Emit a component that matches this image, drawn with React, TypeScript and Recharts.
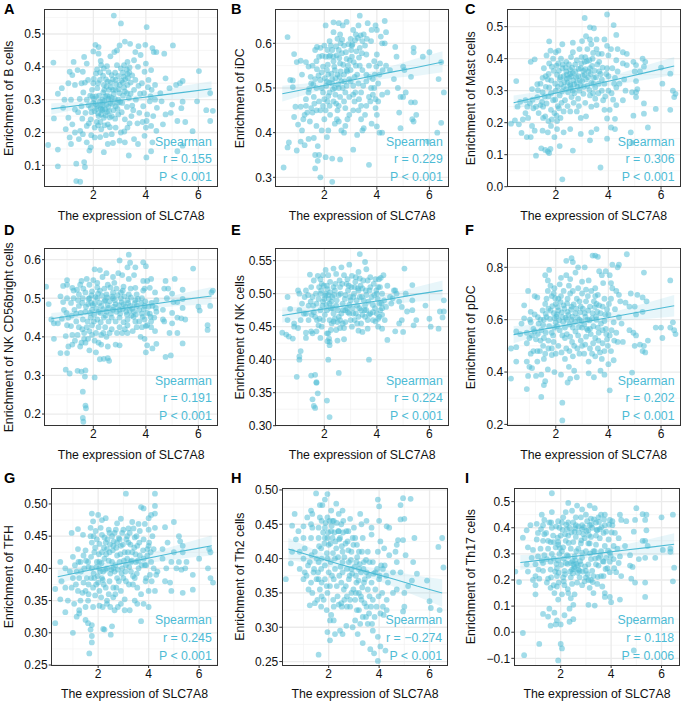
import {
  ComposedChart,
  Scatter,
  Line,
  Area,
  XAxis,
  YAxis,
  CartesianGrid,
} from 'recharts';

const xTicks = [2, 4, 6];
const xMinor = [1, 3, 5];
const fitX = [0.4, 1.5, 2.5, 3.5, 4.5, 5.5, 6.5];

const bCells = [[2.78,.556],[3.05,.532],[4.03,.521],[3.2,.477],[3.4,.47],[3.72,.463],[3.98,.467],[4.25,.457],[4.3,.445],[4.4,.445],[4.7,.44],[5.03,.465],[2.0,.447],[2.08,.467],[2.2,.46],[2.2,.44],[3.0,.465],[2.9,.45],[2.8,.445],[2.65,.432],[3.6,.445],[3.8,.436],[.48,.413],[1.25,.415],[1.65,.43],[1.75,.41],[6.02,.387],[6.45,.32],[6.3,.268],[6.55,.266],[6.45,.235],[5.95,.295],[5.78,.204],[5.4,.357],[5.3,.35],[5.15,.345],[5.4,.294],[5.35,.274],[5.2,.235],[5.5,.232],[5.4,.16],[5.2,.143],[4.02,.124],[4.2,.143],[3.35,.13],[2.4,.14],[1.5,.05],[1.35,.052],[1.35,.105],[.65,.097],[1.65,.11],[1.68,.095],[.28,.162],[.5,.243],[.65,.148],[.65,.318],[.8,.335],[.9,.3],[.85,.275],[1.05,.35],[1.1,.385],[1.2,.375],[1.4,.39],[1.6,.385],[1.55,.35],[1.3,.345],[1.15,.3],[1.3,.27],[1.05,.245],[.95,.21],[1.2,.225],[1.3,.2],[1.5,.205],[1.45,.18],[1.1,.185],[1.15,.165],[1.75,.17],[1.85,.145],[1.9,.155],[1.6,.195],[1.75,.22],[1.9,.24],[1.7,.26],[1.55,.28],[1.75,.3],[1.95,.33],[1.8,.36],[2.0,.35],[2.1,.38],[2.3,.405],[2.4,.395],[2.25,.36],[2.4,.345],[2.1,.31],[2.0,.29],[2.15,.28],[2.05,.265],[2.2,.25],[2.35,.27],[2.25,.295],[2.45,.31],[2.6,.33],[2.55,.355],[2.7,.375],[2.9,.405],[3.05,.395],[3.3,.415],[3.55,.42],[3.7,.4],[4.0,.41],[3.95,.385],[4.2,.39],[3.15,.37],[3.3,.378],[3.0,.345],[2.85,.33],[2.7,.305],[2.5,.285],[2.6,.265],[2.4,.245],[2.55,.225],[2.3,.21],[2.05,.215],[2.05,.185],[2.7,.195],[2.85,.215],[3.05,.2],[3.3,.215],[3.0,.175],[3.2,.17],[3.55,.18],[3.7,.165],[2.75,.168],[2.55,.165],[3.95,.19],[4.0,.215],[4.2,.22],[4.4,.205],[4.25,.17],[4.65,.225],[4.75,.255],[4.95,.26],[5.0,.285],[4.6,.295],[4.35,.3],[4.15,.295],[3.9,.28],[4.05,.255],[3.75,.26],[3.45,.25],[3.2,.24],[2.95,.255],[2.85,.28],[3.1,.29],[3.35,.305],[3.55,.33],[3.3,.345],[3.6,.36],[3.85,.35],[4.1,.36],[4.35,.345],[4.75,.365],[4.55,.32],[4.9,.335],[2.75,.33],[2.35,.3],[2.15,.335],[2.65,.29],[2.95,.3],[2.3,.255],[1.9,.275],[2.5,.34],[2.85,.36],[3.2,.325],[3.0,.32],[2.7,.25],[2.45,.27]];
const bCore = [[1.82,.283],[1.93,.262],[2.03,.302],[2.12,.272],[2.18,.258],[2.22,.312],[2.28,.283],[2.33,.267],[2.38,.322],[2.42,.296],[2.47,.252],[2.52,.312],[2.57,.278],[2.63,.246],[2.67,.338],[2.72,.287],[2.77,.268],[2.82,.302],[2.87,.347],[2.92,.272],[2.97,.332],[3.02,.293],[3.07,.358],[3.12,.382],[3.17,.337],[3.22,.362],[3.27,.392],[3.32,.366],[3.37,.383],[3.42,.352],[3.48,.374],[2.02,.363],[2.14,.392],[2.26,.383],[2.37,.373],[2.48,.362],[2.58,.384],[2.66,.352],[2.74,.362],[2.83,.382],[2.94,.372],[1.68,.352],[1.88,.312],[1.62,.322],[1.48,.302],[1.42,.262],[1.58,.242],[1.83,.228],[2.13,.232],[2.27,.232],[2.43,.222],[2.63,.216],[2.83,.242],[3.08,.262],[3.28,.278],[3.48,.282],[3.62,.3],[3.78,.318],[3.93,.32],[4.08,.338],[4.22,.33],[3.72,.342],[3.52,.268],[3.68,.228],[3.88,.232],[4.03,.235],[3.38,.228],[3.18,.203],[2.48,.192],[2.26,.186],[1.92,.192],[2.18,.222],[2.58,.302],[2.36,.283],[2.08,.286],[1.97,.31],[2.28,.272],[2.52,.262],[2.92,.29],[3.13,.312],[3.28,.32],[2.62,.31],[2.78,.318],[2.42,.33],[2.18,.35],[3.42,.318],[4.18,.31],[4.42,.275],[4.28,.25],[3.12,.352],[3.38,.398],[3.17,.405],[2.52,.402],[2.28,.418]];
const iDC = [[.6,.614],[.45,.322],[.65,.378],[.6,.367],[.95,.36],[.7,.518],[.8,.517],[.85,.576],[.95,.558],[1.1,.561],[1.3,.558],[1.4,.548],[1.15,.53],[.8,.502],[.9,.458],[.85,.435],[1.1,.458],[1.3,.46],[1.5,.455],[1.2,.43],[1.0,.418],[1.15,.405],[1.45,.425],[1.1,.38],[1.25,.372],[1.4,.386],[1.6,.388],[1.75,.37],[1.65,.35],[1.8,.35],[1.65,.32],[1.75,.337],[1.85,.3],[2.05,.345],[2.3,.342],[2.6,.34],[2.3,.29],[3.1,.362],[3.7,.328],[3.8,.42],[4.0,.414],[4.1,.4],[4.2,.4],[4.0,.44],[4.9,.41],[5.35,.43],[5.5,.44],[5.4,.425],[4.85,.445],[5.95,.38],[6.3,.4],[6.45,.422],[6.55,.49],[6.35,.52],[6.45,.558],[6.0,.58],[5.75,.57],[5.4,.58],[5.4,.59],[4.7,.592],[4.75,.57],[4.3,.6],[4.2,.6],[5.0,.548],[5.05,.54],[5.3,.525],[5.1,.49],[5.0,.48],[4.8,.5],[4.9,.48],[5.3,.468],[5.45,.468],[4.65,.52],[4.5,.54],[4.35,.55],[4.4,.49],[4.2,.485],[4.05,.47],[3.95,.455],[4.3,.65],[4.35,.625],[4.15,.615],[4.0,.63],[3.95,.64],[3.8,.63],[3.65,.645],[3.35,.662],[3.3,.64],[3.1,.63],[2.85,.648],[2.7,.64],[2.55,.645],[2.35,.647],[2.05,.64],[2.35,.625],[2.6,.62],[2.5,.61],[2.2,.605],[2.0,.595],[1.85,.59],[1.65,.585],[1.8,.57],[2.05,.57],[2.3,.585],[2.55,.585],[2.75,.595],[3.0,.61],[3.2,.62],[3.45,.605],[3.6,.575],[3.35,.59],[3.05,.57],[2.85,.565],[2.6,.555],[2.35,.56],[2.1,.54],[1.9,.535],[1.65,.52],[1.5,.51],[1.7,.5],[1.9,.5],[2.1,.515],[2.3,.52],[2.5,.53],[2.75,.53],[3.0,.54],[3.2,.55],[3.45,.54],[3.7,.55],[3.9,.56],[4.0,.575],[3.85,.52],[4.1,.53],[3.6,.515],[3.4,.49],[3.3,.51],[3.1,.505],[2.85,.505],[2.65,.515],[2.4,.5],[2.2,.49],[2.0,.475],[1.8,.47],[1.6,.48],[1.4,.49],[1.3,.475],[1.7,.45],[1.95,.46],[2.2,.46],[2.45,.465],[2.6,.48],[2.75,.47],[2.95,.48],[3.15,.47],[3.4,.46],[3.6,.46],[3.7,.48],[3.9,.5],[2.0,.43],[1.9,.405],[1.7,.415],[2.1,.39],[2.15,.405],[2.4,.42],[2.55,.425],[2.8,.415],[2.75,.4],[2.95,.44],[3.1,.45],[3.4,.43],[3.5,.41],[3.25,.395],[2.5,.45],[2.9,.55],[2.4,.54],[3.25,.53],[2.55,.5],[2.15,.53],[2.3,.51]];
const iCore = [[1.85,.518],[1.95,.548],[2.02,.522],[2.07,.505],[2.13,.552],[2.18,.512],[2.22,.573],[2.27,.532],[2.33,.497],[2.38,.548],[2.43,.522],[2.47,.573],[2.52,.508],[2.57,.567],[2.62,.537],[2.67,.578],[2.72,.552],[2.77,.515],[2.82,.58],[2.87,.537],[2.92,.598],[2.97,.562],[3.02,.585],[3.07,.598],[3.12,.558],[3.17,.607],[3.22,.582],[3.28,.612],[3.32,.568],[3.38,.618],[3.43,.578],[3.5,.62],[3.55,.595],[2.45,.593],[2.68,.608],[2.25,.595],[1.78,.528],[1.58,.508],[1.48,.525],[1.42,.498],[1.72,.542],[1.92,.572],[1.72,.592],[2.12,.585],[2.58,.525],[2.8,.49],[3.0,.515],[3.18,.49],[3.48,.505],[3.72,.525],[3.78,.5],[3.92,.53],[4.05,.51],[4.12,.555],[4.22,.54],[3.98,.548],[3.75,.47],[3.55,.44],[3.3,.45],[3.85,.485],[3.95,.475],[2.35,.47],[2.12,.47],[2.55,.46],[2.8,.455],[1.85,.45],[1.55,.445],[1.35,.445],[1.25,.44],[1.62,.465],[1.95,.49],[2.05,.45],[2.22,.44],[2.65,.405],[2.88,.43],[3.45,.405],[2.48,.43],[3.78,.605],[3.62,.61],[3.05,.595],[2.62,.6],[2.18,.57],[1.55,.55],[1.7,.56],[3.6,.53],[3.35,.55],[3.15,.525],[2.95,.52],[2.7,.5],[2.42,.485],[2.15,.482],[3.1,.485],[3.32,.475],[2.85,.54],[2.35,.57]];
const mastCells = [[3.95,.538],[3.1,.527],[4.2,.505],[3.3,.498],[3.45,.495],[4.3,.474],[3.15,.47],[3.3,.46],[3.55,.46],[3.85,.46],[1.75,.454],[2.25,.445],[2.65,.45],[3.0,.455],[3.35,.445],[3.95,.44],[4.1,.43],[4.35,.43],[4.55,.42],[4.7,.415],[2.1,.425],[1.8,.425],[2.0,.42],[2.65,.42],[2.9,.43],[3.2,.43],[3.55,.43],[3.75,.415],[1.2,.398],[1.05,.39],[1.65,.41],[1.9,.4],[2.2,.4],[2.4,.39],[2.8,.395],[3.1,.39],[3.4,.4],[3.65,.39],[4.0,.41],[4.3,.395],[4.55,.385],[4.95,.39],[5.05,.38],[5.3,.4],[5.4,.39],[5.35,.375],[4.7,.38],[1.55,.37],[1.85,.375],[2.25,.37],[2.55,.365],[2.95,.37],[3.3,.37],[3.65,.36],[3.95,.37],[4.15,.37],[4.35,.36],[.5,.33],[1.3,.32],[1.5,.34],[1.7,.335],[2.05,.35],[2.3,.345],[2.6,.345],[2.85,.345],[3.1,.35],[3.45,.34],[3.75,.335],[4.0,.345],[4.25,.34],[4.6,.335],[5.0,.36],[5.2,.36],[5.05,.33],[6.0,.372],[6.35,.353],[1.1,.305],[.85,.27],[.65,.265],[.55,.25],[1.3,.28],[1.5,.295],[1.75,.31],[2.0,.3],[2.2,.32],[2.45,.325],[2.7,.32],[2.95,.315],[3.2,.315],[3.5,.31],[3.75,.3],[4.0,.3],[4.3,.31],[4.65,.3],[4.9,.295],[5.05,.295],[5.1,.305],[5.05,.28],[5.35,.26],[6.05,.322],[6.45,.3],[6.5,.28],[6.55,.29],[6.35,.24],[5.8,.243],[5.35,.228],[4.95,.222],[5.5,.185],[4.85,.17],[4.9,.137],[3.95,.213],[4.25,.212],[4.25,.18],[4.1,.185],[3.95,.15],[3.7,.06],[2.25,.023],[2.65,.113],[2.15,.127],[1.25,.097],[1.45,.12],[1.6,.115],[1.7,.11],[1.8,.118],[1.75,.105],[1.05,.155],[.9,.155],[.7,.168],[.3,.197],[.45,.207],[.6,.195],[.75,.21],[.85,.23],[.95,.215],[1.1,.19],[1.2,.175],[1.5,.175],[1.7,.17],[1.95,.155],[2.05,.18],[2.3,.17],[2.55,.18],[2.95,.165],[3.35,.17],[3.55,.18],[3.3,.145],[1.15,.245],[1.35,.23],[1.6,.22],[1.85,.21],[2.05,.205],[2.3,.235],[2.55,.235],[2.8,.235],[2.95,.215],[3.15,.22],[3.35,.25],[3.55,.255],[3.85,.24],[4.05,.24],[4.3,.255],[4.55,.27],[1.65,.26],[1.9,.27],[2.15,.285],[2.35,.27],[2.6,.28],[2.85,.275],[3.05,.29],[3.3,.285],[3.5,.275],[3.8,.27],[2.4,.305],[2.65,.3],[2.9,.3],[3.15,.335],[2.75,.36],[2.4,.36],[2.5,.34],[3.0,.33],[2.15,.335],[3.35,.325],[2.55,.32]];
const mCore = [[1.62,.312],[1.73,.352],[1.83,.332],[1.92,.362],[1.98,.322],[2.03,.378],[2.08,.312],[2.12,.362],[2.18,.342],[2.24,.298],[2.27,.382],[2.33,.327],[2.38,.372],[2.42,.337],[2.47,.295],[2.5,.382],[2.55,.352],[2.58,.308],[2.62,.372],[2.67,.332],[2.71,.292],[2.74,.382],[2.78,.342],[2.82,.312],[2.87,.368],[2.92,.332],[2.97,.385],[3.02,.347],[3.07,.312],[3.12,.367],[3.18,.392],[3.23,.342],[3.28,.302],[3.33,.352],[3.38,.377],[3.43,.322],[3.48,.362],[3.53,.342],[3.58,.382],[3.63,.322],[3.7,.352],[3.78,.372],[3.85,.322],[3.92,.352],[1.48,.265],[1.58,.282],[1.72,.282],[1.82,.292],[1.98,.272],[2.08,.252],[2.22,.262],[2.45,.252],[2.68,.262],[2.88,.252],[3.12,.262],[3.42,.292],[3.62,.292],[3.88,.282],[4.12,.292],[4.22,.322],[4.42,.322],[4.18,.272],[1.25,.25],[1.42,.255],[1.52,.25],[1.82,.24],[1.95,.23],[2.12,.245],[2.03,.222],[1.12,.272],[1.02,.26],[.92,.25],[1.32,.302],[1.62,.345],[1.42,.322],[1.82,.19],[1.72,.205],[2.18,.215],[1.52,.215],[3.12,.405],[3.42,.418],[3.62,.415],[3.28,.395],[2.58,.405],[2.98,.405],[2.1,.385],[1.75,.385],[2.55,.315],[2.8,.325],[2.3,.312],[3.25,.36],[3.05,.362],[2.65,.355],[2.42,.35]];
const nkBright = [[3.35,.613],[3.0,.598],[3.4,.592],[3.3,.58],[3.6,.58],[3.9,.593],[4.0,.583],[5.8,.577],[2.05,.575],[2.25,.573],[2.5,.565],[2.95,.565],[3.1,.56],[3.35,.55],[3.55,.56],[2.35,.555],[2.75,.555],[4.2,.55],[3.9,.545],[4.05,.545],[4.75,.545],[5.1,.55],[1.0,.547],[1.75,.55],[2.0,.547],[1.55,.545],[1.0,.535],[.85,.532],[.2,.53],[1.2,.527],[1.5,.535],[1.85,.535],[2.15,.54],[2.55,.535],[2.8,.54],[3.15,.53],[3.6,.527],[3.95,.525],[4.15,.527],[4.7,.525],[4.85,.525],[5.4,.522],[6.55,.52],[6.5,.515],[5.0,.512],[1.25,.52],[1.45,.51],[1.7,.515],[1.95,.518],[2.25,.52],[2.5,.51],[2.75,.515],[3.05,.515],[3.35,.51],[3.65,.51],[3.9,.52],[4.35,.515],[.75,.505],[1.0,.5],[1.25,.5],[1.6,.5],[1.85,.5],[2.15,.5],[2.45,.495],[2.75,.5],[3.05,.5],[3.3,.495],[3.6,.495],[3.85,.5],[4.4,.495],[4.8,.5],[5.05,.49],[5.4,.498],[.3,.485],[.85,.49],[1.15,.488],[1.45,.48],[1.8,.485],[2.05,.487],[2.3,.48],[2.55,.482],[2.85,.485],[3.15,.485],[3.4,.48],[3.65,.48],[3.95,.48],[4.25,.48],[4.65,.47],[5.2,.49],[5.4,.475],[6.45,.48],[6.0,.478],[6.05,.468],[1.35,.46],[1.7,.465],[1.95,.47],[2.2,.465],[2.5,.465],[2.75,.47],[3.0,.47],[3.25,.465],[3.55,.465],[3.85,.46],[4.15,.46],[4.4,.465],[5.0,.462],[.4,.445],[.5,.435],[.65,.435],[.8,.447],[1.05,.45],[1.35,.44],[1.6,.445],[1.9,.45],[2.15,.445],[2.4,.45],[2.7,.45],[3.0,.45],[3.3,.445],[3.6,.44],[3.95,.445],[4.2,.44],[4.7,.44],[4.65,.445],[5.2,.45],[5.35,.448],[5.5,.445],[1.0,.43],[1.15,.428],[1.45,.425],[1.65,.41],[1.95,.43],[2.2,.425],[2.45,.425],[2.7,.42],[3.0,.425],[3.3,.43],[3.65,.425],[4.0,.428],[4.35,.415],[5.0,.435],[6.35,.43],[6.35,.418],[.5,.395],[.95,.402],[1.2,.405],[1.4,.405],[1.65,.395],[1.95,.405],[2.3,.405],[2.5,.4],[2.9,.41],[3.1,.41],[3.8,.4],[3.95,.395],[4.9,.41],[5.2,.41],[1.05,.375],[1.2,.38],[1.3,.39],[1.5,.375],[1.7,.385],[1.85,.365],[2.1,.36],[2.3,.38],[2.55,.375],[2.85,.38],[3.0,.378],[4.0,.36],[4.05,.378],[4.25,.37],[4.4,.382],[5.4,.383],[.75,.358],[1.0,.358],[2.4,.343],[2.25,.342],[2.55,.345],[2.6,.338],[4.75,.348],[4.95,.352],[.95,.315],[1.1,.305],[1.4,.312],[1.55,.31],[1.7,.313],[1.68,.297],[2.05,.295],[1.6,.258],[1.7,.222],[1.72,.215],[1.6,.19],[1.62,.18]];
const dCore = [[1.72,.478],[1.82,.498],[1.88,.462],[1.93,.508],[1.98,.482],[2.03,.457],[2.08,.503],[2.12,.473],[2.18,.512],[2.23,.488],[2.28,.462],[2.33,.507],[2.38,.472],[2.42,.492],[2.47,.455],[2.52,.502],[2.58,.475],[2.62,.492],[2.67,.46],[2.72,.505],[2.78,.478],[2.82,.495],[2.88,.465],[2.92,.508],[2.98,.482],[3.02,.46],[3.08,.49],[3.12,.472],[3.18,.505],[3.22,.478],[3.28,.458],[3.33,.488],[3.38,.468],[3.43,.502],[3.48,.473],[3.53,.452],[3.58,.487],[3.62,.458],[3.7,.498],[3.75,.47],[3.82,.487],[3.88,.452],[3.92,.472],[3.98,.492],[4.05,.462],[4.1,.478],[4.18,.452],[4.22,.488],[4.32,.45],[4.38,.475],[1.52,.462],[1.58,.488],[1.42,.495],[1.28,.47],[1.18,.455],[.98,.462],[.88,.47],[1.62,.525],[1.38,.522],[1.92,.488],[2.15,.528],[2.42,.525],[2.65,.528],[2.88,.525],[3.12,.52],[3.42,.525],[1.78,.44],[2.02,.44],[2.28,.438],[2.58,.44],[2.85,.44],[3.15,.438],[3.45,.455],[3.75,.44],[4.05,.43],[1.85,.415],[2.1,.41],[1.75,.425],[1.58,.42],[2.38,.41],[2.62,.41],[3.2,.42],[3.5,.415],[3.85,.425],[4.2,.425],[3.3,.41],[1.8,.395],[1.55,.385],[2.05,.39],[2.2,.385]];
const nkCells = [[3.35,.56],[3.55,.548],[5.05,.538],[3.3,.533],[2.05,.536],[2.35,.538],[2.65,.54],[2.95,.544],[3.6,.537],[1.45,.529],[1.6,.52],[1.75,.527],[1.95,.528],[2.15,.528],[2.45,.53],[2.75,.528],[3.05,.527],[3.35,.523],[3.65,.52],[3.95,.522],[4.15,.524],[4.25,.528],[4.4,.512],[5.35,.513],[1.0,.505],[1.3,.505],[1.5,.51],[1.8,.51],[2.1,.512],[2.35,.51],[2.6,.51],[2.85,.515],[3.15,.51],[3.45,.508],[3.75,.51],[4.05,.51],[4.7,.505],[1.05,.5],[.6,.495],[1.25,.495],[1.55,.495],[1.85,.5],[2.05,.5],[2.3,.495],[2.55,.498],[2.8,.498],[3.1,.495],[3.35,.495],[3.6,.498],[3.9,.498],[4.2,.5],[4.6,.493],[5.1,.5],[6.55,.49],[1.15,.485],[1.4,.482],[1.7,.485],[1.95,.488],[2.2,.485],[2.45,.482],[2.7,.485],[2.95,.483],[3.25,.482],[3.55,.482],[3.85,.483],[4.1,.485],[4.55,.485],[4.85,.488],[5.35,.49],[5.85,.482],[.7,.477],[1.05,.475],[1.3,.47],[1.6,.472],[1.85,.475],[2.1,.475],[2.35,.47],[2.65,.47],[2.9,.472],[3.2,.47],[3.45,.468],[3.75,.47],[4.0,.47],[4.2,.468],[4.95,.48],[5.15,.473],[5.35,.475],[6.4,.473],[6.55,.473],[.6,.46],[.85,.455],[1.1,.46],[1.4,.46],[1.65,.465],[1.95,.46],[2.2,.46],[2.5,.457],[2.8,.457],[3.15,.46],[3.4,.455],[3.65,.46],[3.95,.458],[4.3,.46],[4.95,.46],[4.85,.455],[5.5,.46],[5.4,.452],[6.0,.462],[6.5,.464],[.4,.441],[.55,.438],[.65,.435],[.8,.432],[.85,.45],[1.0,.448],[1.3,.441],[1.5,.443],[1.7,.443],[1.9,.45],[2.15,.44],[2.45,.445],[2.75,.448],[3.05,.45],[3.3,.444],[3.45,.442],[3.65,.447],[4.05,.45],[4.2,.447],[4.7,.443],[5.0,.442],[6.05,.45],[6.35,.447],[1.3,.433],[1.55,.44],[1.85,.433],[2.2,.427],[2.1,.44],[2.5,.429],[2.75,.431],[2.2,.422],[4.4,.43],[1.1,.413],[1.05,.405],[1.05,.4],[2.15,.4],[3.7,.4],[.95,.374],[2.55,.38],[1.5,.376],[1.65,.377],[1.7,.366],[1.7,.365],[1.75,.349],[1.55,.34],[2.1,.338],[1.6,.33],[1.65,.327],[2.2,.313],[2.55,.465],[3.0,.49],[2.4,.505],[2.15,.498],[3.5,.49],[2.0,.492],[2.25,.478],[2.9,.505],[3.3,.505],[1.9,.515]];
const nCore = [[1.78,.492],[1.88,.505],[1.93,.482],[1.98,.512],[2.03,.497],[2.08,.483],[2.12,.507],[2.17,.492],[2.22,.502],[2.27,.488],[2.32,.478],[2.37,.498],[2.42,.515],[2.47,.49],[2.52,.475],[2.62,.5],[2.68,.515],[2.72,.475],[2.78,.492],[2.87,.478],[2.93,.512],[2.98,.495],[3.03,.51],[3.08,.478],[3.13,.5],[3.18,.518],[3.23,.49],[3.28,.508],[3.33,.478],[3.38,.512],[3.43,.495],[3.48,.52],[3.53,.475],[3.58,.505],[3.68,.488],[3.72,.505],[3.8,.495],[3.88,.515],[3.93,.478],[3.98,.505],[4.03,.492],[4.08,.522],[4.13,.475],[4.18,.485],[4.28,.49],[4.35,.48],[4.05,.462],[4.1,.465],[4.2,.478],[1.58,.482],[1.48,.488],[1.68,.5],[1.38,.498],[1.22,.47],[1.52,.468],[1.72,.46],[1.82,.462],[2.02,.468],[2.28,.455],[2.4,.462],[2.6,.46],[2.7,.455],[3.0,.46],[3.25,.455],[3.55,.465],[3.85,.46],[2.12,.428],[2.18,.432],[2.25,.445],[2.35,.458],[2.6,.448],[1.78,.452],[3.3,.465],[3.4,.475],[3.6,.475],[3.7,.468],[3.85,.472],[2.8,.475],[3.1,.47],[2.95,.47],[4.5,.495],[4.65,.505],[4.75,.5],[2.58,.52],[2.22,.518],[1.85,.522],[2.88,.522],[3.2,.525],[3.75,.525],[4.12,.51],[4.0,.5]];
const pDC = [[3.4,.845],[3.5,.845],[3.6,.84],[4.7,.85],[2.6,.835],[2.65,.82],[2.85,.8],[2.4,.825],[3.1,.8],[4.15,.81],[4.4,.81],[4.35,.8],[1.75,.79],[2.75,.78],[3.65,.785],[3.9,.785],[5.35,.78],[1.6,.77],[2.2,.76],[2.4,.77],[2.55,.755],[3.0,.745],[3.25,.75],[3.75,.77],[4.05,.77],[6.35,.75],[1.7,.75],[1.8,.73],[2.15,.735],[2.5,.73],[2.85,.72],[3.15,.715],[3.5,.72],[3.8,.74],[4.1,.74],[.95,.71],[1.7,.71],[1.95,.72],[2.3,.71],[2.65,.71],[3.0,.7],[3.35,.71],[3.6,.695],[4.15,.72],[4.3,.71],[4.4,.695],[1.2,.69],[1.3,.685],[1.85,.69],[2.1,.68],[2.45,.68],[2.8,.68],[3.15,.67],[3.45,.67],[3.85,.68],[4.1,.68],[4.45,.67],[4.85,.7],[5.1,.695],[5.3,.685],[5.45,.67],[.8,.655],[1.6,.66],[2.0,.66],[2.3,.655],[2.6,.65],[2.95,.65],[3.3,.65],[3.65,.655],[3.95,.64],[4.25,.64],[4.65,.665],[4.8,.65],[5.0,.65],[1.05,.63],[1.2,.62],[1.5,.635],[1.8,.635],[2.1,.635],[2.45,.63],[2.75,.625],[3.1,.625],[3.4,.625],[3.7,.625],[4.0,.62],[4.4,.61],[5.3,.63],[5.05,.62],[.8,.605],[1.05,.59],[.7,.585],[1.35,.585],[1.65,.61],[1.95,.605],[2.25,.61],[2.6,.6],[2.9,.6],[3.2,.6],[3.55,.6],[3.85,.595],[4.2,.59],[4.5,.585],[5.8,.57],[6.0,.57],[6.35,.57],[6.45,.59],[6.5,.56],[.5,.555],[.65,.545],[.9,.55],[1.15,.565],[1.45,.56],[1.75,.575],[2.05,.575],[2.35,.57],[2.65,.57],[3.0,.57],[3.3,.565],[3.6,.57],[3.9,.565],[4.3,.55],[4.8,.56],[4.95,.55],[5.05,.54],[6.05,.53],[6.55,.545],[.3,.49],[.5,.495],[.9,.51],[1.0,.53],[1.25,.525],[1.55,.53],[1.9,.54],[2.25,.54],[2.55,.535],[2.85,.54],[3.15,.535],[3.5,.53],[3.95,.525],[4.35,.515],[4.55,.515],[5.0,.5],[5.2,.505],[5.35,.5],[5.5,.52],[5.3,.48],[5.4,.475],[1.15,.48],[1.3,.48],[1.05,.47],[1.6,.47],[1.85,.49],[2.1,.5],[2.4,.49],[2.7,.5],[3.0,.5],[3.3,.49],[3.6,.49],[3.85,.48],[4.1,.48],[.5,.44],[.9,.44],[1.0,.42],[1.1,.415],[1.3,.44],[1.55,.45],[1.85,.465],[2.0,.47],[2.35,.45],[2.65,.46],[2.9,.47],[3.25,.44],[3.5,.46],[3.75,.45],[4.0,.43],[4.2,.445],[.3,.375],[.95,.385],[1.25,.385],[1.45,.39],[1.7,.41],[1.95,.4],[2.2,.39],[2.5,.42],[2.7,.405],[2.55,.375],[2.8,.38],[3.25,.395],[3.45,.38],[3.7,.405],[3.85,.39],[4.9,.398],[.9,.335],[1.6,.365],[1.55,.35],[1.45,.305],[2.25,.283],[2.25,.215],[4.05,.33],[2.45,.36]];
const pCore = [[1.62,.622],[1.72,.642],[1.78,.603],[1.87,.652],[1.93,.625],[1.98,.682],[2.03,.612],[2.08,.648],[2.13,.598],[2.18,.668],[2.23,.628],[2.28,.592],[2.33,.642],[2.38,.608],[2.43,.662],[2.48,.618],[2.53,.582],[2.58,.638],[2.63,.612],[2.68,.658],[2.73,.592],[2.78,.642],[2.83,.608],[2.88,.572],[2.93,.628],[2.98,.595],[3.03,.642],[3.08,.582],[3.13,.612],[3.18,.565],[3.23,.635],[3.28,.598],[3.33,.545],[3.38,.605],[3.43,.575],[3.48,.648],[3.53,.612],[3.58,.63],[3.63,.55],[3.72,.585],[3.78,.56],[3.88,.62],[3.92,.545],[1.42,.6],[1.52,.58],[1.62,.55],[1.72,.52],[1.85,.55],[1.95,.57],[2.15,.56],[2.35,.53],[2.42,.545],[2.62,.515],[2.75,.555],[2.95,.52],[3.12,.505],[3.22,.56],[3.42,.51],[3.62,.52],[3.78,.51],[3.98,.5],[4.05,.54],[4.12,.56],[4.22,.52],[1.4,.48],[1.52,.5],[1.72,.49],[1.92,.515],[2.22,.475],[2.52,.48],[2.82,.49],[3.08,.47],[3.38,.47],[3.68,.475],[1.2,.555],[1.32,.545],[1.1,.54],[1.42,.52],[1.02,.6],[1.32,.61],[1.55,.6],[1.65,.68],[1.92,.7],[2.2,.69],[2.55,.7],[2.9,.67],[3.22,.69],[3.5,.69],[3.78,.65],[4.02,.66],[3.55,.66],[2.0,.59],[2.42,.6],[2.05,.62]];
const tfh = [[3.1,.516],[4.25,.516],[4.25,.497],[3.7,.495],[3.8,.493],[4.25,.485],[4.1,.483],[1.75,.485],[2.0,.483],[2.15,.475],[2.3,.478],[1.8,.473],[4.0,.478],[2.75,.47],[2.9,.477],[3.2,.462],[3.35,.472],[3.6,.469],[3.85,.469],[4.25,.463],[4.65,.464],[5.0,.472],[.95,.455],[1.2,.461],[1.7,.463],[1.9,.458],[2.1,.463],[2.45,.455],[2.7,.46],[2.95,.455],[3.4,.462],[3.65,.458],[4.0,.46],[1.4,.452],[1.7,.45],[1.95,.445],[2.25,.448],[2.55,.45],[2.85,.445],[3.15,.45],[3.45,.448],[3.8,.445],[4.15,.45],[5.2,.45],[5.25,.442],[1.75,.44],[2.05,.438],[2.3,.44],[2.6,.435],[2.9,.435],[3.2,.44],[3.55,.435],[3.95,.43],[4.75,.44],[5.35,.435],[5.0,.425],[1.2,.43],[1.5,.428],[1.85,.425],[2.15,.425],[2.45,.425],[2.75,.42],[3.05,.425],[3.35,.425],[3.65,.42],[4.0,.435],[4.2,.43],[4.55,.43],[5.35,.425],[6.4,.43],[6.45,.425],[1.0,.418],[1.3,.41],[1.6,.41],[1.95,.41],[2.25,.415],[2.55,.41],[2.85,.41],[3.15,.415],[3.5,.41],[3.8,.415],[4.1,.41],[4.55,.415],[4.9,.41],[5.5,.41],[5.2,.41],[6.0,.415],[.5,.41],[.7,.4],[1.15,.395],[1.45,.4],[1.75,.4],[2.05,.4],[2.35,.4],[2.65,.395],[2.95,.4],[3.3,.395],[3.6,.4],[3.85,.405],[4.2,.4],[4.35,.395],[4.7,.4],[5.1,.4],[5.45,.4],[5.3,.398],[6.35,.4],[.55,.38],[1.0,.385],[1.25,.385],[1.55,.385],[1.85,.385],[2.15,.385],[2.45,.38],[2.75,.385],[3.1,.38],[3.45,.385],[3.9,.385],[4.3,.39],[4.65,.38],[4.85,.378],[5.75,.39],[6.45,.385],[6.55,.378],[.3,.368],[.7,.37],[.95,.37],[1.2,.365],[1.5,.365],[1.8,.37],[2.05,.365],[2.3,.37],[2.6,.37],[2.9,.365],[3.55,.37],[3.7,.36],[4.0,.365],[4.25,.365],[4.9,.365],[5.35,.362],[5.75,.367],[.5,.352],[.8,.35],[1.05,.345],[1.3,.35],[1.6,.35],[2.35,.35],[2.6,.355],[3.05,.352],[3.45,.35],[3.8,.345],[4.0,.34],[1.25,.335],[.7,.332],[1.5,.34],[1.8,.34],[2.05,.342],[2.35,.345],[2.65,.335],[2.9,.345],[3.05,.335],[3.25,.335],[3.55,.345],[1.15,.325],[1.25,.33],[1.5,.32],[.3,.315],[1.6,.315],[1.75,.312],[3.7,.318],[1.0,.3],[1.7,.305],[1.75,.295],[1.75,.285],[1.65,.268],[2.2,.306],[2.25,.305],[2.55,.31],[2.5,.297]];
const gCore = [[1.62,.402],[1.72,.418],[1.82,.392],[1.88,.432],[1.93,.402],[1.98,.388],[2.03,.422],[2.08,.395],[2.13,.408],[2.18,.382],[2.23,.432],[2.28,.398],[2.32,.422],[2.37,.445],[2.42,.412],[2.47,.437],[2.52,.398],[2.58,.428],[2.62,.442],[2.68,.405],[2.72,.432],[2.78,.398],[2.82,.447],[2.88,.422],[2.93,.392],[2.98,.437],[3.02,.412],[3.08,.395],[3.12,.445],[3.18,.425],[3.23,.402],[3.28,.437],[3.33,.412],[3.38,.388],[3.43,.432],[3.48,.422],[3.53,.392],[3.58,.412],[3.63,.44],[3.72,.405],[3.78,.428],[3.9,.405],[3.95,.42],[4.02,.44],[4.08,.425],[1.42,.42],[1.52,.412],[1.32,.395],[1.42,.378],[1.62,.375],[1.72,.385],[1.92,.375],[2.0,.378],[2.22,.375],[2.48,.392],[2.72,.37],[2.82,.38],[3.0,.385],[3.22,.375],[3.38,.375],[3.88,.38],[4.05,.39],[4.12,.38],[1.08,.405],[1.22,.41],[.88,.395],[1.12,.375],[1.38,.362],[1.62,.36],[1.88,.358],[2.12,.355],[2.42,.36],[2.68,.36],[2.18,.34],[2.48,.34],[2.78,.34],[1.82,.45],[2.15,.452],[2.42,.46],[2.65,.455],[3.0,.46],[3.25,.455],[3.52,.45],[2.35,.43],[2.75,.44],[2.05,.41],[2.2,.395],[3.1,.405],[3.3,.41],[2.6,.4]];
const th2 = [[1.5,.495],[1.95,.494],[1.85,.486],[3.95,.486],[4.95,.488],[5.25,.487],[4.0,.476],[1.75,.478],[2.3,.48],[4.85,.478],[1.3,.47],[1.35,.465],[1.65,.478],[2.1,.47],[2.4,.465],[2.55,.47],[.65,.465],[1.15,.46],[1.3,.45],[1.65,.46],[1.95,.46],[2.2,.455],[2.5,.45],[2.85,.458],[3.25,.465],[3.5,.455],[4.0,.455],[4.85,.457],[5.0,.458],[.55,.448],[1.0,.447],[1.35,.445],[1.6,.445],[1.85,.445],[2.1,.44],[2.4,.44],[2.7,.44],[3.0,.445],[3.3,.45],[3.7,.445],[4.3,.447],[4.4,.445],[.8,.44],[.7,.428],[1.0,.43],[1.3,.43],[1.6,.43],[1.85,.43],[2.15,.43],[2.45,.43],[2.75,.425],[3.05,.43],[3.35,.43],[3.7,.435],[4.05,.425],[4.75,.427],[4.95,.427],[5.4,.43],[6.5,.43],[.55,.41],[.85,.41],[1.05,.415],[1.45,.41],[1.7,.415],[2.0,.42],[2.3,.415],[2.55,.41],[2.9,.41],[3.2,.41],[3.55,.41],[3.95,.41],[4.2,.415],[4.7,.42],[4.65,.41],[6.35,.417],[1.0,.4],[1.25,.395],[.5,.393],[1.6,.395],[1.95,.4],[2.25,.4],[2.55,.395],[2.8,.395],[3.1,.395],[3.4,.395],[3.75,.395],[4.4,.405],[5.05,.405],[5.35,.395],[4.7,.395],[.85,.385],[1.05,.38],[1.4,.38],[1.7,.385],[2.0,.38],[2.25,.385],[2.55,.38],[2.9,.385],[3.2,.385],[3.5,.38],[3.85,.38],[4.15,.385],[4.55,.38],[4.85,.38],[5.5,.378],[6.55,.387],[.3,.37],[1.0,.37],[1.3,.365],[1.6,.37],[1.85,.37],[2.2,.37],[2.5,.365],[2.8,.37],[3.1,.365],[3.4,.365],[3.7,.365],[4.0,.37],[4.35,.365],[5.3,.368],[5.9,.368],[1.2,.355],[1.35,.35],[1.65,.355],[1.95,.35],[2.6,.355],[2.9,.35],[3.2,.35],[3.55,.355],[3.85,.355],[4.55,.35],[4.7,.355],[5.0,.35],[5.15,.36],[1.55,.34],[1.8,.34],[2.35,.345],[2.5,.335],[2.85,.34],[3.05,.34],[3.3,.34],[3.5,.33],[3.9,.33],[4.15,.33],[5.0,.33],[6.0,.338],[1.25,.332],[1.45,.335],[1.7,.33],[2.2,.33],[2.4,.333],[3.2,.325],[3.35,.315],[3.6,.32],[4.05,.32],[4.3,.325],[4.95,.323],[6.05,.328],[6.4,.325],[2.05,.31],[2.1,.318],[2.2,.31],[3.05,.31],[3.25,.305],[3.55,.305],[1.95,.293],[2.25,.29],[2.05,.281],[2.45,.295],[2.55,.29],[2.7,.302],[2.95,.3],[3.15,.29],[3.75,.295],[3.95,.286],[3.35,.277],[3.65,.268],[3.8,.262],[4.25,.266],[4.05,.272],[1.6,.26],[3.95,.251]];
const hCore = [[1.62,.418],[1.72,.4],[1.78,.438],[1.83,.422],[1.88,.452],[1.93,.408],[1.98,.438],[2.03,.455],[2.07,.422],[2.12,.448],[2.17,.408],[2.22,.438],[2.27,.425],[2.32,.452],[2.37,.402],[2.42,.428],[2.47,.388],[2.52,.418],[2.57,.438],[2.62,.402],[2.67,.422],[2.72,.385],[2.78,.412],[2.83,.375],[2.88,.398],[2.93,.378],[2.98,.42],[3.03,.388],[3.08,.375],[3.13,.402],[3.18,.368],[3.23,.392],[3.28,.38],[3.33,.358],[3.38,.385],[3.43,.37],[3.48,.398],[3.58,.375],[3.62,.395],[3.78,.378],[3.92,.385],[4.02,.375],[4.08,.39],[4.22,.39],[4.28,.375],[1.42,.385],[1.52,.4],[1.32,.405],[1.58,.38],[1.72,.365],[1.85,.39],[2.08,.395],[2.13,.375],[2.32,.36],[2.42,.375],[2.68,.36],[2.72,.345],[2.98,.355],[3.08,.35],[3.28,.345],[3.62,.345],[3.75,.34],[3.98,.345],[4.12,.35],[4.3,.34],[1.72,.345],[2.05,.36],[2.18,.34],[2.62,.34],[2.85,.33],[3.42,.335],[3.68,.33],[3.82,.315],[4.18,.318],[3.48,.315],[3.72,.305],[2.72,.33],[1.92,.325],[2.52,.33],[3.12,.325],[1.52,.37],[1.12,.375],[1.18,.39],[1.92,.36],[2.15,.455],[2.38,.44],[1.72,.455],[2.58,.455],[2.95,.43],[3.12,.42],[3.32,.41],[2.78,.44],[1.95,.43]];
const th17 = [[1.65,.532],[2.3,.495],[2.65,.485],[2.85,.47],[3.15,.485],[3.35,.475],[5.0,.475],[2.2,.46],[2.45,.465],[3.0,.45],[3.6,.45],[3.75,.45],[4.35,.45],[5.25,.452],[5.4,.45],[6.45,.45],[1.25,.45],[1.65,.46],[2.1,.44],[2.6,.44],[2.8,.44],[3.2,.435],[3.5,.44],[3.95,.43],[4.05,.425],[4.4,.43],[4.6,.425],[4.95,.43],[5.35,.43],[6.0,.44],[1.35,.43],[1.55,.42],[1.9,.425],[2.3,.42],[2.6,.41],[2.85,.41],[3.15,.41],[3.4,.42],[3.75,.41],[4.05,.41],[.8,.41],[.65,.39],[1.05,.415],[1.3,.41],[1.65,.4],[1.95,.4],[2.25,.395],[2.55,.385],[2.85,.395],[3.1,.39],[3.45,.39],[3.8,.385],[4.15,.38],[4.9,.385],[5.4,.39],[.5,.362],[1.1,.38],[1.35,.375],[1.7,.37],[2.0,.37],[2.3,.37],[2.6,.365],[2.95,.36],[3.2,.365],[3.55,.36],[3.9,.355],[4.3,.36],[1.05,.355],[1.3,.35],[1.6,.345],[1.9,.345],[2.2,.35],[2.5,.345],[2.8,.34],[3.1,.34],[3.4,.335],[3.75,.33],[4.1,.33],[5.25,.35],[5.35,.35],[.7,.325],[.9,.315],[1.2,.32],[1.5,.32],[1.8,.325],[2.1,.325],[2.4,.32],[2.7,.32],[3.0,.31],[3.3,.31],[3.6,.31],[3.95,.305],[4.25,.32],[4.55,.33],[5.45,.33],[6.05,.315],[6.35,.32],[6.35,.308],[.85,.285],[1.1,.29],[1.35,.295],[1.65,.3],[1.95,.3],[2.25,.295],[2.55,.29],[2.85,.285],[3.2,.28],[3.5,.285],[3.8,.285],[4.1,.28],[4.35,.29],[4.75,.295],[5.1,.28],[5.35,.285],[5.75,.285],[1.0,.26],[1.3,.265],[1.6,.27],[1.9,.275],[2.2,.265],[2.5,.26],[2.8,.26],[3.1,.26],[3.4,.26],[3.7,.27],[3.95,.27],[4.3,.265],[.65,.26],[4.75,.255],[4.85,.25],[6.5,.247],[.2,.232],[.7,.232],[1.0,.215],[1.3,.235],[1.6,.24],[1.85,.245],[2.15,.235],[2.45,.24],[2.7,.24],[3.0,.235],[3.25,.235],[3.6,.215],[3.95,.23],[4.2,.23],[4.4,.215],[.35,.192],[.9,.2],[1.15,.205],[1.5,.205],[1.85,.215],[2.1,.21],[2.4,.21],[2.75,.21],[3.0,.21],[3.3,.215],[4.8,.205],[4.95,.19],[5.35,.19],[6.45,.195],[1.0,.18],[1.6,.17],[1.85,.175],[2.15,.18],[2.45,.185],[2.85,.18],[3.15,.17],[3.45,.185],[3.65,.175],[1.0,.145],[2.05,.145],[2.3,.15],[2.55,.145],[3.3,.15],[3.75,.15],[1.9,.125],[2.4,.13],[3.75,.135],[3.95,.135],[4.0,.115],[4.35,.125],[5.35,.135],[3.1,.105],[3.35,.102],[1.55,.09],[2.35,.09],[2.5,.105],[1.3,.07],[1.75,.075],[2.15,.065],[1.5,.06],[1.6,.025],[1.85,.045],[2.0,.03],[2.35,.04],[2.5,.05],[1.8,.03],[.5,-.003],[1.15,-.045],[2.0,-.045],[2.05,-.062],[.55,-.088],[1.9,-.108],[4.9,-.07]];
const tCore = [[1.72,.282],[1.78,.232],[1.83,.262],[1.88,.362],[1.92,.228],[1.97,.322],[2.02,.258],[2.07,.392],[2.12,.282],[2.17,.222],[2.22,.412],[2.27,.262],[2.32,.342],[2.37,.232],[2.42,.382],[2.47,.272],[2.52,.242],[2.57,.398],[2.62,.262],[2.67,.228],[2.72,.382],[2.77,.272],[2.82,.352],[2.87,.232],[2.92,.402],[2.97,.252],[3.02,.388],[3.07,.222],[3.12,.372],[3.17,.302],[3.22,.412],[3.27,.192],[3.32,.432],[3.37,.282],[3.42,.392],[3.47,.212],[3.52,.422],[3.57,.292],[3.62,.402],[3.67,.272],[3.72,.432],[3.78,.242],[3.88,.312],[3.92,.412],[3.98,.292],[4.02,.382],[1.62,.21],[1.72,.18],[1.92,.19],[2.12,.195],[2.28,.165],[2.65,.19],[2.95,.195],[3.1,.2],[2.55,.25],[2.48,.225],[2.68,.255],[2.4,.265],[2.75,.235],[2.58,.275],[2.3,.29],[2.05,.31],[1.9,.335],[1.72,.345],[1.5,.35],[1.42,.38],[1.22,.395],[1.62,.42],[1.82,.405],[2.05,.42],[2.18,.375],[2.35,.4],[2.5,.42],[2.7,.405],[2.9,.375],[3.05,.425],[3.25,.4],[3.4,.37],[3.55,.395],[3.7,.38],[3.15,.34],[3.35,.31],[3.5,.255],[3.7,.215],[3.85,.245],[4.12,.245],[1.45,.28],[1.25,.275],[1.12,.24],[1.45,.19],[1.75,.15],[3.2,.2],[2.62,.31],[2.85,.305]];

const bLo = [.255,.272,.285,.295,.300,.303,.308];
const bFit = [.272,.283,.293,.303,.313,.323,.333];
const bHi = [.289,.294,.301,.311,.325,.343,.356];
const iLo = [.470,.489,.503,.514,.522,.527,.535];
const iFit = [.487,.500,.511,.523,.535,.546,.558];
const iHi = [.505,.511,.520,.532,.548,.566,.582];
const mLo = [.240,.268,.291,.309,.322,.335,.350];
const mFit = [.262,.283,.302,.320,.339,.358,.377];
const mHi = [.285,.298,.313,.331,.356,.381,.405];
const dLo = [.432,.448,.460,.470,.476,.481,.484];
const dFit = [.447,.458,.468,.477,.487,.497,.506];
const dHi = [.462,.468,.476,.485,.498,.514,.529];
const nLo = [.456,.467,.475,.481,.484,.488,.490];
const nFit = [.467,.474,.480,.486,.492,.499,.505];
const nHi = [.479,.481,.485,.491,.500,.510,.520];
const pLo = [.510,.543,.568,.586,.596,.604,.612];
const pFit = [.543,.563,.581,.599,.617,.635,.653];
const pHi = [.576,.583,.594,.612,.638,.666,.694];
const gLo = [.376,.388,.398,.406,.411,.416,.420];
const gFit = [.387,.396,.404,.412,.420,.428,.435];
const gHi = [.398,.404,.410,.418,.429,.440,.451];
const hLo = [.398,.392,.384,.374,.360,.345,.330];
const hFit = [.414,.402,.391,.381,.371,.360,.350];
const hHi = [.430,.412,.398,.388,.382,.375,.370];
const tLo = [.238,.260,.277,.289,.293,.295,.295];
const tFit = [.267,.279,.290,.302,.314,.325,.337];
const tHi = [.296,.298,.303,.315,.335,.356,.379];

const INK = '#4DBBD5';
const FONT = '"Liberation Sans", Arial, sans-serif';

const Dot = (props: any) => <circle cx={props.cx} cy={props.cy} r={2.9} fill={INK} fillOpacity={0.52} />;

function Panel(p: any) {
  const { x0, y0, w, h, l, r, t, b, letter, titleX, name, pts, lo, fit, hi, dom, ticks, minor, rText, pText } = p;
  const rows = fitX.map((x, i) => ({ x, fit: fit[i], band: [lo[i], hi[i]] }));
  const data = pts.map((q: number[]) => ({ x: q[0], y: q[1] }));
  const midY = (t + b) / 2 - y0;
  const endX = r - x0 - 5.5;
  return (
    <div style={{ position: 'absolute', left: x0, top: y0, width: w, height: h }}>
      <ComposedChart
        width={w}
        height={h}
        data={rows}
        margin={{ top: t - y0, right: x0 + w - r, bottom: 0, left: 0 }}
        style={{ fontFamily: FONT }}
      >
        <CartesianGrid stroke="#f0f0f0" strokeWidth={0.6} verticalValues={xMinor} horizontalValues={minor} />
        <CartesianGrid stroke="#ebebeb" strokeWidth={1.3} verticalValues={xTicks} horizontalValues={ticks} />
        <XAxis
          dataKey="x"
          type="number"
          domain={[0.16, 6.72]}
          ticks={xTicks}
          allowDataOverflow
          height={y0 + h - b}
          axisLine={false}
          tickSize={3}
          tickMargin={1}
          tickLine={{ stroke: '#333333' }}
          tick={{ fill: '#111111', fontSize: 12 }}
          interval={0}
        />
        <YAxis
          type="number"
          domain={dom}
          ticks={ticks}
          allowDataOverflow
          width={l - x0}
          axisLine={false}
          tickSize={3}
          tickMargin={1}
          tickLine={{ stroke: '#333333' }}
          tick={{ fill: '#111111', fontSize: 12 }}
          interval={0}
          tickFormatter={(v: number) => (v < 0 ? '\u2212' + Math.abs(v).toFixed(p.digits) : v.toFixed(p.digits))}
        />
        <Scatter data={data} dataKey="y" shape={Dot} isAnimationActive={false} />
        <Area dataKey="band" type="linear" stroke="none" fill={INK} fillOpacity={0.13} isAnimationActive={false} dot={false} activeDot={false} />
        <Line dataKey="fit" type="linear" stroke={INK} strokeWidth={1.1} dot={false} activeDot={false} isAnimationActive={false} />
        <text x={letter.x} y={letter.y} fontSize={14.5} fontWeight="bold" fill="#000" fontFamily={FONT}>{letter.s}</text>
        <text x={(l + r) / 2 - x0} y={b - y0 + 33.3} fontSize={12.3} fill="#111" textAnchor="middle" fontFamily={FONT}>The expression of SLC7A8</text>
        <text x={0} y={0} transform={`translate(${titleX},${midY}) rotate(-90)`} fontSize={12.3} fill="#111" textAnchor="middle" fontFamily={FONT}>{name}</text>
        <text x={endX} y={b - y0 - 41} fontSize={12.3} fill={INK} textAnchor="end" fontFamily={FONT}>Spearman</text>
        <text x={endX} y={b - y0 - 23.5} fontSize={12.3} fill={INK} textAnchor="end" fontFamily={FONT}>{rText}</text>
        <text x={endX} y={b - y0 - 5.5} fontSize={12.3} fill={INK} textAnchor="end" fontFamily={FONT}>{pText}</text>
      </ComposedChart>
      {/* panel frame */}
      <div
        style={{
          position: 'absolute',
          left: l - x0 - 0.7,
          top: t - y0 - 0.7,
          width: r - l + 1.4,
          height: b - t + 1.4,
          border: '1.4px solid #333333',
          boxSizing: 'border-box',
          pointerEvents: 'none',
        }}
      />
    </div>
  );
}

const colA = { x0: 0, w: 225, l: 45, r: 217.3, titleX: 12.5 };
const colB = { x0: 225, w: 225, l: 276, r: 448.3, titleX: 18.5 };
const colC = { x0: 450, w: 233, l: 507.3, r: 680, titleX: 25 };
const row1 = { y0: 0, h: 222, t: 10, b: 186.7 };
const row2 = { y0: 222, h: 248, t: 249, b: 425.7 };
const row3 = { y0: 470, h: 234, t: 488.3, b: 665 };

export default function App() {
  return (
    <div style={{ position: 'absolute', left: 0, top: 0, width: 683, height: 704, background: '#fff' }}>
      <Panel {...colA} {...row1} letter={{ s: 'A', x: 4, y: 14 }} name="Enrichment of B cells" pts={[...bCells, ...bCore]} lo={bLo} fit={bFit} hi={bHi} dom={[0.035, 0.573]} ticks={[0.1, 0.2, 0.3, 0.4, 0.5]} minor={[0.15, 0.25, 0.35, 0.45, 0.55]} digits={1} rText="r = 0.155" pText="P < 0.001" />
      <Panel {...colB} {...row1} letter={{ s: 'B', x: 6, y: 14 }} name="Enrichment of iDC" pts={[...iDC, ...iCore]} lo={iLo} fit={iFit} hi={iHi} dom={[0.279, 0.6746]} ticks={[0.3, 0.4, 0.5, 0.6]} minor={[0.35, 0.45, 0.55, 0.65]} digits={1} rText="r = 0.229" pText="P < 0.001" />
      <Panel {...colC} {...row1} letter={{ s: 'C', x: 15, y: 14 }} name="Enrichment of Mast cells" pts={[...mastCells, ...mCore]} lo={mLo} fit={mFit} hi={mHi} dom={[0, 0.552]} ticks={[0, 0.1, 0.2, 0.3, 0.4, 0.5]} minor={[0.05, 0.15, 0.25, 0.35, 0.45]} digits={1} rText="r = 0.306" pText="P < 0.001" />
      <Panel {...colA} {...row2} letter={{ s: 'D', x: 4, y: 13 }} name="Enrichment of NK CD56bright cells" pts={[...nkBright, ...dCore]} lo={dLo} fit={dFit} hi={dHi} dom={[0.1698, 0.6276]} ticks={[0.2, 0.3, 0.4, 0.5, 0.6]} minor={[0.25, 0.35, 0.45, 0.55]} digits={1} rText="r = 0.191" pText="P < 0.001" />
      <Panel {...colB} {...row2} letter={{ s: 'E', x: 6, y: 13 }} name="Enrichment of NK cells" pts={[...nkCells, ...nCore]} lo={nLo} fit={nFit} hi={nHi} dom={[0.3, 0.5677]} ticks={[0.3, 0.35, 0.4, 0.45, 0.5, 0.55]} minor={[0.325, 0.375, 0.425, 0.475, 0.525]} digits={2} rText="r = 0.224" pText="P < 0.001" />
      <Panel {...colC} {...row2} letter={{ s: 'F', x: 15, y: 13 }} name="Enrichment of pDC" pts={[...pDC, ...pCore]} lo={pLo} fit={pFit} hi={pHi} dom={[0.195, 0.87]} ticks={[0.2, 0.4, 0.6, 0.8]} minor={[0.3, 0.5, 0.7]} digits={1} rText="r = 0.202" pText="P < 0.001" />
      <Panel {...colA} {...row3} l={51.7} letter={{ s: 'G', x: 4, y: 12.5 }} name="Enrichment of TFH" pts={[...tfh, ...gCore]} lo={gLo} fit={gFit} hi={gHi} dom={[0.25, 0.5243]} ticks={[0.25, 0.3, 0.35, 0.4, 0.45, 0.5]} minor={[0.275, 0.325, 0.375, 0.425, 0.475]} digits={2} rText="r = 0.245" pText="P < 0.001" />
      <Panel {...colB} {...row3} l={282.3} r={447.7} letter={{ s: 'H', x: 6, y: 12.5 }} name="Enrichment of Th2 cells" pts={[...th2, ...hCore]} lo={hLo} fit={hFit} hi={hHi} dom={[0.245, 0.5024]} ticks={[0.25, 0.3, 0.35, 0.4, 0.45, 0.5]} minor={[0.275, 0.325, 0.375, 0.425, 0.475]} digits={2} rText={'r = \u22120.274'} pText="P < 0.001" />
      <Panel {...colC} {...row3} l={514.3} r={679.7} letter={{ s: 'I', x: 15, y: 12.5 }} name="Enrichment of Th17 cells" pts={[...th17, ...tCore]} lo={tLo} fit={tFit} hi={tHi} dom={[-0.1255, 0.551]} ticks={[-0.1, 0, 0.1, 0.2, 0.3, 0.4, 0.5]} minor={[-0.05, 0.05, 0.15, 0.25, 0.35, 0.45]} digits={1} rText="r = 0.118" pText="P = 0.006" />
    </div>
  );
}
